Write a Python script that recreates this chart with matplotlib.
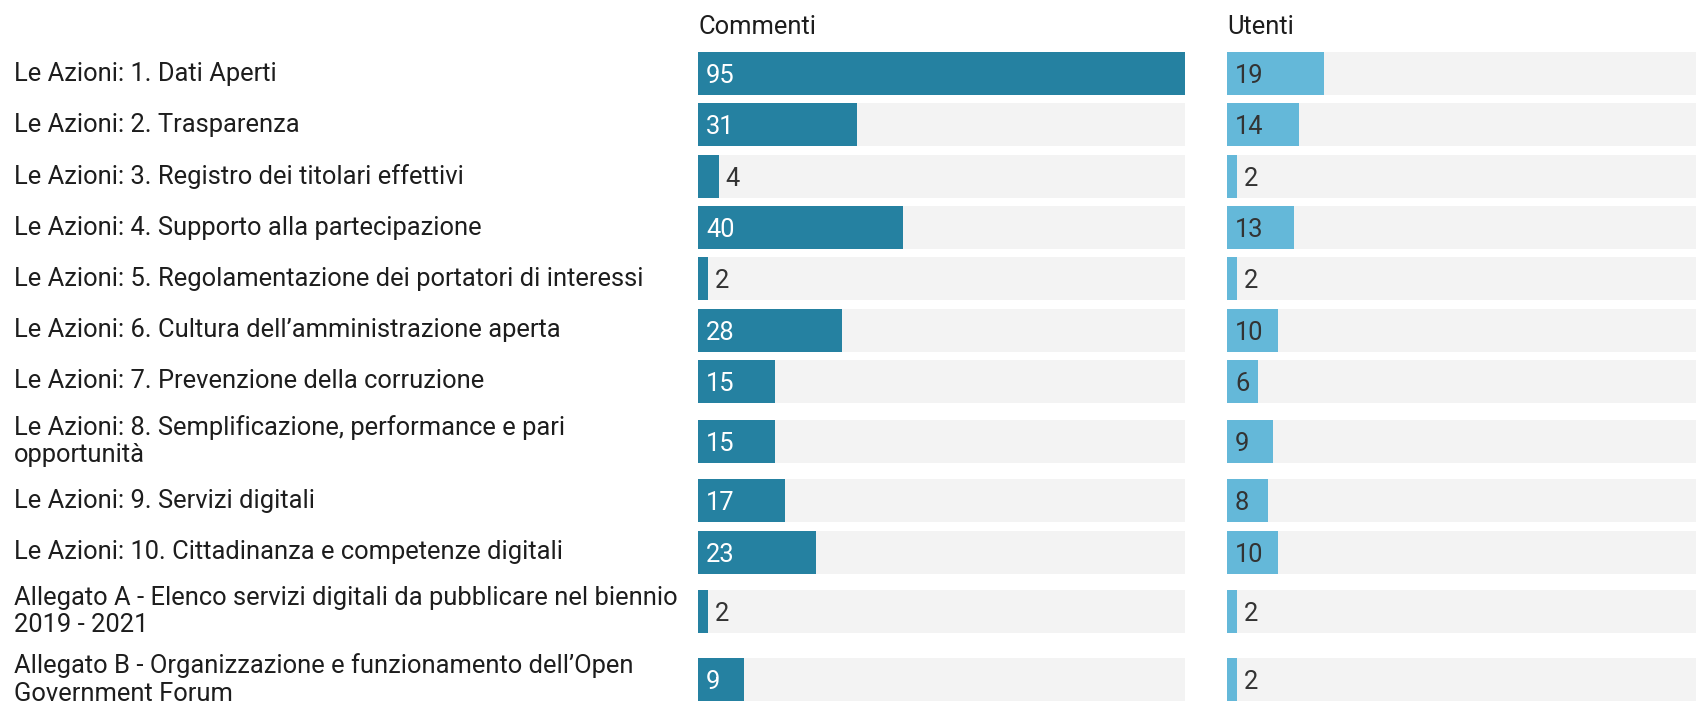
import matplotlib
matplotlib.use("Agg")
import matplotlib.pyplot as plt
from matplotlib.transforms import blended_transform_factory

plt.rcParams['font.family'] = ['Roboto', 'DejaVu Sans']

categories = [
    "Le Azioni: 1. Dati Aperti",
    "Le Azioni: 2. Trasparenza",
    "Le Azioni: 3. Registro dei titolari effettivi",
    "Le Azioni: 4. Supporto alla partecipazione",
    "Le Azioni: 5. Regolamentazione dei portatori di interessi",
    "Le Azioni: 6. Cultura dell\u2019amministrazione aperta",
    "Le Azioni: 7. Prevenzione della corruzione",
    "Le Azioni: 8. Semplificazione, performance e pari\nopportunit\u00e0",
    "Le Azioni: 9. Servizi digitali",
    "Le Azioni: 10. Cittadinanza e competenze digitali",
    "Allegato A - Elenco servizi digitali da pubblicare nel biennio\n2019 - 2021",
    "Allegato B - Organizzazione e funzionamento dell\u2019Open\nGovernment Forum",
]
commenti = [95, 31, 4, 40, 2, 28, 15, 15, 17, 23, 2, 9]
utenti = [19, 14, 2, 13, 2, 10, 6, 9, 8, 10, 2, 2]
headers = ["Commenti", "Utenti"]

W, H = 1696, 704
DPI = 100
fig = plt.figure(figsize=(W / DPI, H / DPI), dpi=DPI)

# row layout (pixel units, top-down)
top = 48.0
single_h = 51.3
double_h = 68.0
centers = []
y = top
for c in categories:
    h = double_h if "\n" in c else single_h
    centers.append(y + h / 2)
    y += h
bar_h = 43

XMAX = 95
panels = [
    # (x0 px, width px, values, bar colour, inside text colour)
    (698, 487, commenti, "#2581a1", "white"),
    (1227, 487, utenti, "#64b8d9", "#333333"),
]

FS = 18.4
for (x0, wpx, vals, col, incol), head in zip(panels, headers):
    ax = fig.add_axes([x0 / W, 0, wpx / W, 1])
    ax.set_xlim(0, XMAX)
    ax.set_ylim(H, 0)
    ax.axis("off")
    ax.barh(centers, [XMAX] * len(vals), height=bar_h, color="#f3f3f3", left=0)
    ax.barh(centers, vals, height=bar_h, color=col, edgecolor="none")
    ppu = wpx / XMAX
    for yc, v in zip(centers, vals):
        wv = v * ppu
        if wv > 25:
            ax.text(8 / ppu, yc, str(v), color=incol, fontsize=FS,
                    ha="left", va="center_baseline")
        else:
            ax.text(v + 7 / ppu, yc, str(v), color="#333333", fontsize=FS,
                    ha="left", va="center_baseline")
    ax.text(0, 25, head, color="#1d1d1d", fontsize=FS, ha="left",
            va="center_baseline")

tr = blended_transform_factory(fig.transFigure, ax.transData)
for yc, c in zip(centers, categories):
    fig.text(14 / W, 0, c, transform=tr, fontsize=FS, color="#1d1d1d",
             ha="left", va="center", linespacing=1.18).set_y(yc)

fig.savefig("out.png", dpi=DPI)
